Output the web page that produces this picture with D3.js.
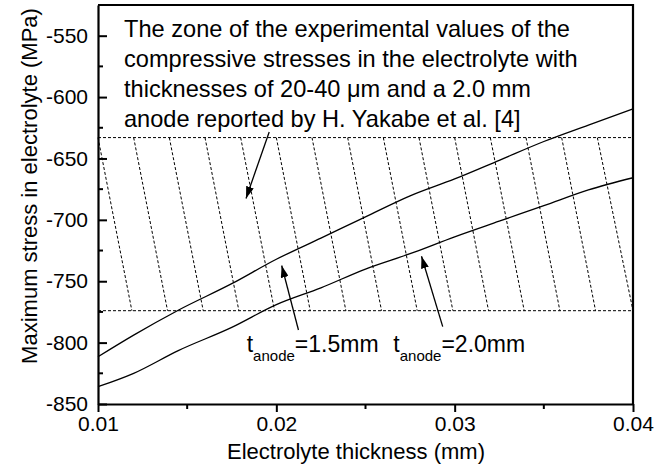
<!DOCTYPE html>
<html>
<head>
<meta charset="utf-8">
<script src="https://cdn.jsdelivr.net/npm/d3@7"></script>
<style>
  body { margin: 0; background: #fff; }
  svg { display: block; font-family: "Liberation Sans", Arial, sans-serif; }
</style>
</head>
<body>
<svg id="chart" width="662" height="473"></svg>
<script>
// electrolyte thickness (mm)
const thickness = [0.010, 0.012, 0.0145, 0.0175, 0.020, 0.0225, 0.025, 0.0275, 0.030, 0.0325, 0.035, 0.0375, 0.040];
// max stress (MPa), anode 1.5 mm and 2.0 mm
const stress15 = [-811.5, -793.9, -773.6, -752.0, -732.1, -714.9, -697.6, -680.5, -666.7, -651.5, -636.2, -622.8, -609.6];
const stress20 = [-835.9, -825.0, -806.5, -787.6, -769.1, -755.4, -740.1, -727.6, -713.8, -701.1, -688.5, -675.6, -665.7];

// experimental zone (Yakabe et al.)
const zoneTop = -633;
const zoneBottom = -774;
const hatchTops = [0.010, 0.012, 0.014, 0.016, 0.018, 0.020, 0.022, 0.024, 0.026, 0.028, 0.030, 0.032, 0.034, 0.036, 0.038];
const hatchBottoms = [0.0119, 0.0139, 0.0159, 0.0179, 0.0199, 0.0219, 0.0239, 0.0259, 0.0279, 0.0299, 0.0319, 0.0339, 0.0359, 0.0379, 0.0400];

const xTicks = [0.01, 0.02, 0.03, 0.04];
const xMinor = [0.015, 0.025, 0.035];
const yTicks = [-850, -800, -750, -700, -650, -600, -550];
const yMinor = [-825, -775, -725, -675, -625, -575];

const noteLines = [
  "The zone of the experimental values of the",
  "compressive stresses in the electrolyte with",
  "thicknesses of 20-40 \u03bcm and a 2.0 mm",
  "anode reported by H. Yakabe et al. [4]"
];

// arrows: [x tail, y tail, x tip, y tip]
const arrows = [
  [0.0196, -628.4, 0.0183, -682.6],
  [0.02124, -789.7, 0.02030, -737.2],
  [0.02933, -787.0, 0.02814, -729.7]
];
const labels = [
  {x: 0.01834, y: -807.4, val: "=1.5mm"},
  {x: 0.02656, y: -807.4, val: "=2.0mm"}
];

const svg = d3.select("#chart"),
   margin = {top: 5, right: 29, bottom: 69, left: 98},
   width = +svg.attr("width"),
   height = +svg.attr("height");

const x = d3.scaleLinear()
   .domain([0.01, 0.04])
   .range([margin.left, width - margin.right]);

const y = d3.scaleLinear()
   .domain([-850, -525])
   .range([height - margin.bottom, margin.top]);

svg.append("defs").append("marker")
   .attr("id", "head")
   .attr("viewBox", "0 0 12 8")
   .attr("refX", 12).attr("refY", 4)
   .attr("markerWidth", 12).attr("markerHeight", 8)
   .attr("markerUnits", "userSpaceOnUse")
   .attr("orient", "auto")
   .append("path")
   .attr("d", "M0,0L12,4L0,8Z")
   .attr("fill", "#000");

// hatched zone
const zone = svg.append("g")
   .attr("fill", "none")
   .attr("stroke", "#000")
   .attr("stroke-width", 1)
   .attr("stroke-dasharray", "3,2");

zone.selectAll("line.edge")
   .data([zoneTop, zoneBottom])
   .join("line")
   .attr("class", "edge")
   .attr("x1", x(0.01)).attr("x2", x(0.04))
   .attr("y1", d => y(d)).attr("y2", d => y(d));

zone.selectAll("line.hatch")
   .data(hatchTops)
   .join("line")
   .attr("class", "hatch")
   .attr("x1", d => x(d))
   .attr("y1", y(zoneTop))
   .attr("x2", (d, i) => x(hatchBottoms[i]))
   .attr("y2", y(zoneBottom));

// curves
const line = d3.line()
   .x((d, i) => x(thickness[i]))
   .y(d => y(d))
   .curve(d3.curveMonotoneX);

svg.append("g")
   .selectAll("path")
   .data([stress15, stress20])
   .join("path")
   .attr("d", line)
   .attr("fill", "none")
   .attr("stroke", "#000")
   .attr("stroke-width", 1.3);

// frame
svg.append("path")
   .attr("d", `M${x(0.01)},${y(-525)}H${x(0.04)}V${y(-850)}`)
   .attr("fill", "none")
   .attr("stroke", "#000")
   .attr("stroke-width", 2.2);

// x axis
const xAxis = svg.append("g")
   .attr("transform", `translate(0,${y(-850)})`);
xAxis.call(d3.axisBottom(x).tickValues(xTicks).tickFormat(d3.format(".2f")).tickSize(8).tickSizeOuter(0).tickPadding(4));
xAxis.selectAll(".minor")
   .data(xMinor)
   .join("line")
   .attr("class", "minor")
   .attr("x1", d => x(d)).attr("x2", d => x(d))
   .attr("y1", 0).attr("y2", 5)
   .attr("stroke", "#000").attr("stroke-width", 2);

// y axis (ticks inside)
const yAxis = svg.append("g")
   .attr("transform", `translate(${x(0.01)},0)`);
yAxis.call(d3.axisLeft(y).tickValues(yTicks).tickFormat(d => String(d)).tickSize(-9).tickSizeOuter(0).tickPadding(10));
yAxis.selectAll(".minor")
   .data(yMinor)
   .join("line")
   .attr("class", "minor")
   .attr("y1", d => y(d)).attr("y2", d => y(d))
   .attr("x1", 0).attr("x2", 5)
   .attr("stroke", "#000").attr("stroke-width", 2);

svg.selectAll(".domain").attr("stroke-width", 2.2);
svg.selectAll(".tick line").attr("stroke-width", 2);
svg.selectAll(".tick text")
   .attr("font-family", "'Liberation Sans', Arial, sans-serif")
   .attr("font-size", 21)
   .attr("fill", "#000");

// axis titles
svg.append("text")
   .attr("x", 356).attr("y", 459)
   .attr("text-anchor", "middle")
   .attr("font-size", 22)
   .text("Electrolyte thickness (mm)");

svg.append("text")
   .attr("transform", "translate(37,186)rotate(-90)")
   .attr("text-anchor", "middle")
   .attr("font-size", 22)
   .text("Maximum stress in electrolyte (MPa)");

// annotation text
svg.append("g")
   .selectAll("text")
   .data(noteLines)
   .join("text")
   .attr("x", margin.left + 26)
   .attr("y", (d, i) => 37 + i * 30)
   .attr("font-size", 23.6)
   .text(d => d);

// arrows
svg.append("g")
   .selectAll("line")
   .data(arrows)
   .join("line")
   .attr("x1", d => x(d[0])).attr("y1", d => y(d[1]))
   .attr("x2", d => x(d[2])).attr("y2", d => y(d[3]))
   .attr("stroke", "#000")
   .attr("stroke-width", 1.3)
   .attr("marker-end", "url(#head)");

// t_anode labels
const lab = svg.append("g")
   .selectAll("text")
   .data(labels)
   .join("text")
   .attr("x", d => x(d.x))
   .attr("y", d => y(d.y))
   .attr("font-size", 23);
lab.append("tspan").text("t");
lab.append("tspan").attr("font-size", 15).attr("dy", 9).text("anode");
lab.append("tspan").attr("dy", -9).text(d => d.val);
</script>
</body>
</html>
